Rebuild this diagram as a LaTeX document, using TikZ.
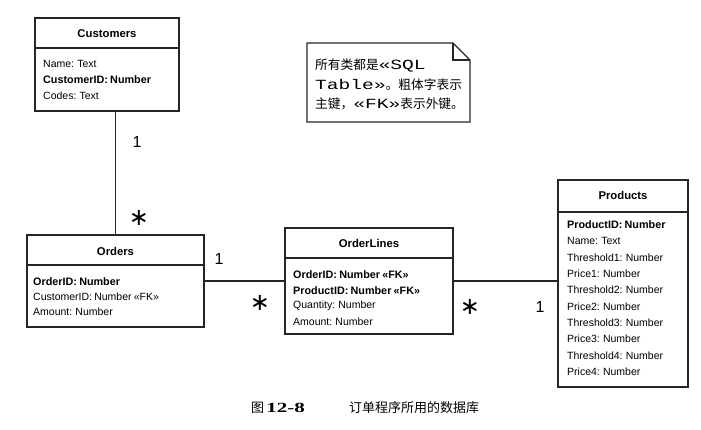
\documentclass[tikz,border=0pt]{standalone}
\usepackage{fontspec}
\usepackage{graphicx}
\setmainfont{Liberation Sans}[WordSpace=0.75]
\newfontfamily\cjk{Noto Sans CJK SC}
\newfontfamily\monof{Liberation Mono}
\newfontfamily\serifb{Liberation Serif}
\newfontfamily\dejavu{DejaVu Sans}
\newcommand\mtx[1]{\scalebox{1.4}[1]{\monof\fontsize{14}{14}\selectfont #1}}
\begin{document}
\begin{tikzpicture}[x=1pt,y=-1pt,
  ln/.style={draw=black!85,line width=1.1pt},
  box/.style={ln,rectangle,inner sep=0pt},
  ttl/.style={font=\fontsize{11.3}{12}\selectfont\bfseries,inner sep=0pt},
  row/.style={anchor=west,inner sep=0pt,font=\fontsize{10.5}{12}\selectfont},
  brow/.style={row,font=\fontsize{10.8}{12}\selectfont\bfseries},
  one/.style={font=\fontsize{16}{16}\selectfont,inner sep=0pt},
  star/.style={font=\dejavu\fontsize{24}{24}\selectfont,inner sep=0pt},
  notetxt/.style={anchor=west,inner sep=0pt,font=\cjk\fontsize{12.7}{14}\selectfont}
]
\useasboundingbox (0,0) rectangle (701,430);

% boxes
\node[box,minimum width=144pt,minimum height=93pt] (cust) at (107,64.5) {};
\node[box,minimum width=177pt,minimum height=92pt] (ord) at (115.5,281) {};
\node[box,minimum width=168pt,minimum height=106pt] (ol) at (369,281) {};
\node[box,minimum width=130pt,minimum height=207pt] (prod) at (623,283.5) {};

% dividers
\draw[ln] (cust.west |- 0,48) -- (cust.east |- 0,48);
\draw[ln] (ord.west |- 0,265) -- (ord.east |- 0,265);
\draw[ln] (ol.west |- 0,258) -- (ol.east |- 0,258);
\draw[ln] (prod.west |- 0,212) -- (prod.east |- 0,212);

% titles
\node[ttl] (tc) at (107,34) {Customers};
\node[ttl] (to) at (115.5,251) {Orders};
\node[ttl] (tol) at (369,243) {OrderLines};
\node[ttl] (tp) at (623,195) {Products};

% Customers rows
\node[row] (c1) at (43,64) {Name: Text};
\node[brow] (c2) at (43,80) {CustomerID: Number};
\node[row] (c3) at (43,96) {Codes: Text};

% Orders rows
\node[brow] (o1) at (33,282) {OrderID: Number};
\node[row] (o2) at (33,297) {CustomerID: Number «FK»};
\node[row] (o3) at (33,312) {Amount: Number};

% OrderLines rows
\node[brow] (l1) at (293,275) {OrderID: Number «FK»};
\node[brow] (l2) at (293,290.5) {ProductID: Number «FK»};
\node[row] (l3) at (293,306) {Quantity: Number};
\node[row] (l4) at (293,322) {Amount: Number};

% Products rows
\node[brow] (p1) at (567,225) {ProductID: Number};
\node[row] (p2) at (567,241.3) {Name: Text};
\node[row] (p3) at (567,257.6) {Threshold1: Number};
\node[row] (p4) at (567,273.9) {Price1: Number};
\node[row] (p5) at (567,290.2) {Threshold2: Number};
\node[row] (p6) at (567,306.5) {Price2: Number};
\node[row] (p7) at (567,322.8) {Threshold3: Number};
\node[row] (p8) at (567,339.1) {Price3: Number};
\node[row] (p9) at (567,355.4) {Threshold4: Number};
\node[row] (p10) at (567,371.7) {Price4: Number};

% connectors
\draw[ln] (ord.north) -- (ord.north |- cust.south);
\draw[ln] (ord.east) -- (ol.west);
\draw[ln] (ol.east) -- (prod.west |- ol.east);

% multiplicities
\node[one] (m1) at (137,142) {1};
\node[star] (m2) at (139,218) {∗};
\node[one] (m3) at (219,259) {1};
\node[star] (m4) at (260,303) {∗};
\node[star] (m5) at (470,307) {∗};
\node[one] (m6) at (540,307) {1};

% note
\draw[ln] (307,43) -- (453,43) -- (470,60) -- (470,122) -- (307,122) -- cycle;
\draw[ln] (453,43) -- (453,60) -- (470,60);
\node[notetxt] (n1) at (315,65) {所有类都是\mtx{«SQL}};
\node[notetxt] (n2) at (315,85) {\mtx{Table»}。粗体字表示};
\node[notetxt] (n3) at (315,104) {主键，\mtx{«FK»}表示外键。};

% caption
\node[anchor=west,inner sep=0pt,font=\cjk\fontsize{13}{14}\selectfont] (cap1) at (251,408) {图\,\scalebox{1.5}[1]{\serifb\bfseries\fontsize{14}{14}\selectfont 12-8}};
\node[anchor=west,inner sep=0pt,font=\cjk\fontsize{13}{14}\selectfont] (cap2) at (349,408) {订单程序所用的数据库};
\end{tikzpicture}
\end{document}
